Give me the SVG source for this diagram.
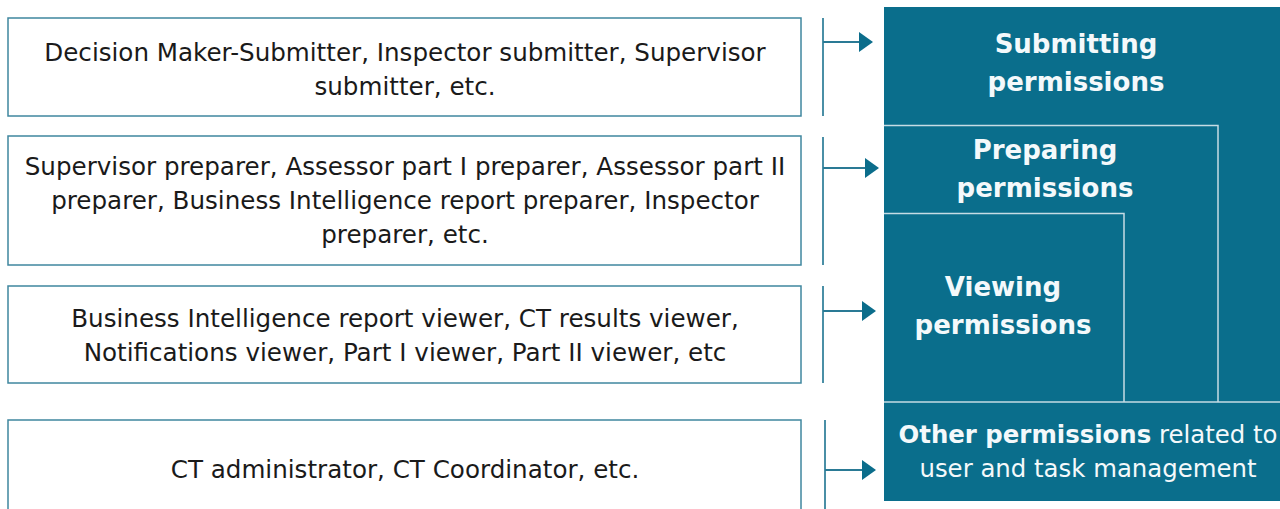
<svg xmlns="http://www.w3.org/2000/svg" width="1280" height="509" viewBox="0 0 1280 509">
<defs>
<style>
.box{fill:#ffffff;stroke:#3f879f;stroke-width:1.5}
.lt{font-family:"DejaVu Sans","Verdana",sans-serif;font-size:24.6px;fill:#1a1a1a;text-anchor:middle}
.vline{stroke:#4a8fa6;stroke-width:2;fill:none}
.arr{stroke:#2a7a95;stroke-width:2;fill:none}
.head{fill:#0b6d8b}
.blk{fill:#0a6e8c}
.sep{stroke:#c6dce4;stroke-width:1.5;fill:none}
.tt{font-family:"DejaVu Sans","Verdana",sans-serif;font-size:26px;font-weight:bold;fill:#f4f9fb;text-anchor:middle}
.ot{font-family:"DejaVu Sans","Verdana",sans-serif;font-size:24.4px;fill:#f4f9fb;text-anchor:middle}
</style>
</defs>
<rect width="1280" height="509" fill="#ffffff"/>

<g id="node-submitter-roles">
<rect class="box" x="8" y="18" width="793" height="98"/>
<text class="lt" x="405" y="61">Decision Maker-Submitter, Inspector submitter, Supervisor</text>
<text class="lt" x="405" y="95">submitter, etc.</text>
</g>

<g id="node-preparer-roles">
<rect class="box" x="8" y="136" width="793" height="129"/>
<text class="lt" x="405" y="175">Supervisor preparer, Assessor part I preparer, Assessor part II</text>
<text class="lt" x="405" y="209">preparer, Business Intelligence report preparer, Inspector</text>
<text class="lt" x="405" y="243">preparer, etc.</text>
</g>

<g id="node-viewer-roles">
<rect class="box" x="8" y="286" width="793" height="97"/>
<text class="lt" x="405" y="327">Business Intelligence report viewer, CT results viewer,</text>
<text class="lt" x="405" y="361">Notifications viewer, Part I viewer, Part II viewer, etc</text>
</g>

<g id="node-admin-roles">
<rect class="box" x="8" y="420" width="793" height="100"/>
<text class="lt" x="405" y="478">CT administrator, CT Coordinator, etc.</text>
</g>

<g id="node-permissions">
<rect class="blk" x="884" y="7" width="400" height="395"/>
<rect class="blk" x="884" y="402" width="400" height="99"/>
<path class="sep" d="M884,125.5 H1218 V402"/>
<path class="sep" d="M884,213.5 H1124 V402"/>
<path class="sep" d="M884,402 H1280"/>
</g>

<g id="node-submitting">
<text class="tt" x="1076" y="53">Submitting</text>
<text class="tt" x="1076" y="91">permissions</text>
</g>
<g id="node-preparing">
<text class="tt" x="1045" y="159">Preparing</text>
<text class="tt" x="1045" y="197">permissions</text>
</g>
<g id="node-viewing">
<text class="tt" x="1003" y="296">Viewing</text>
<text class="tt" x="1003" y="334">permissions</text>
</g>
<g id="node-other">
<text class="ot" x="1088" y="443"><tspan font-weight="bold">Other permissions</tspan> related to</text>
<text class="ot" x="1088" y="477">user and task management</text>
</g>

<g id="connectors">
<line class="vline" x1="823" y1="18" x2="823" y2="116"/>
<line class="arr" x1="823" y1="42" x2="860" y2="42"/>
<polygon class="head" points="859,32 873,42 859,52"/>

<line class="vline" x1="823" y1="137" x2="823" y2="265"/>
<line class="arr" x1="823" y1="168" x2="866" y2="168"/>
<polygon class="head" points="865,158 879,168 865,178"/>

<line class="vline" x1="823" y1="286" x2="823" y2="383"/>
<line class="arr" x1="823" y1="311" x2="863" y2="311"/>
<polygon class="head" points="862,301 876,311 862,321"/>

<line class="vline" x1="825" y1="420" x2="825" y2="509"/>
<line class="arr" x1="825" y1="470" x2="863" y2="470"/>
<polygon class="head" points="862,460 876,470 862,480"/>
</g>
</svg>
